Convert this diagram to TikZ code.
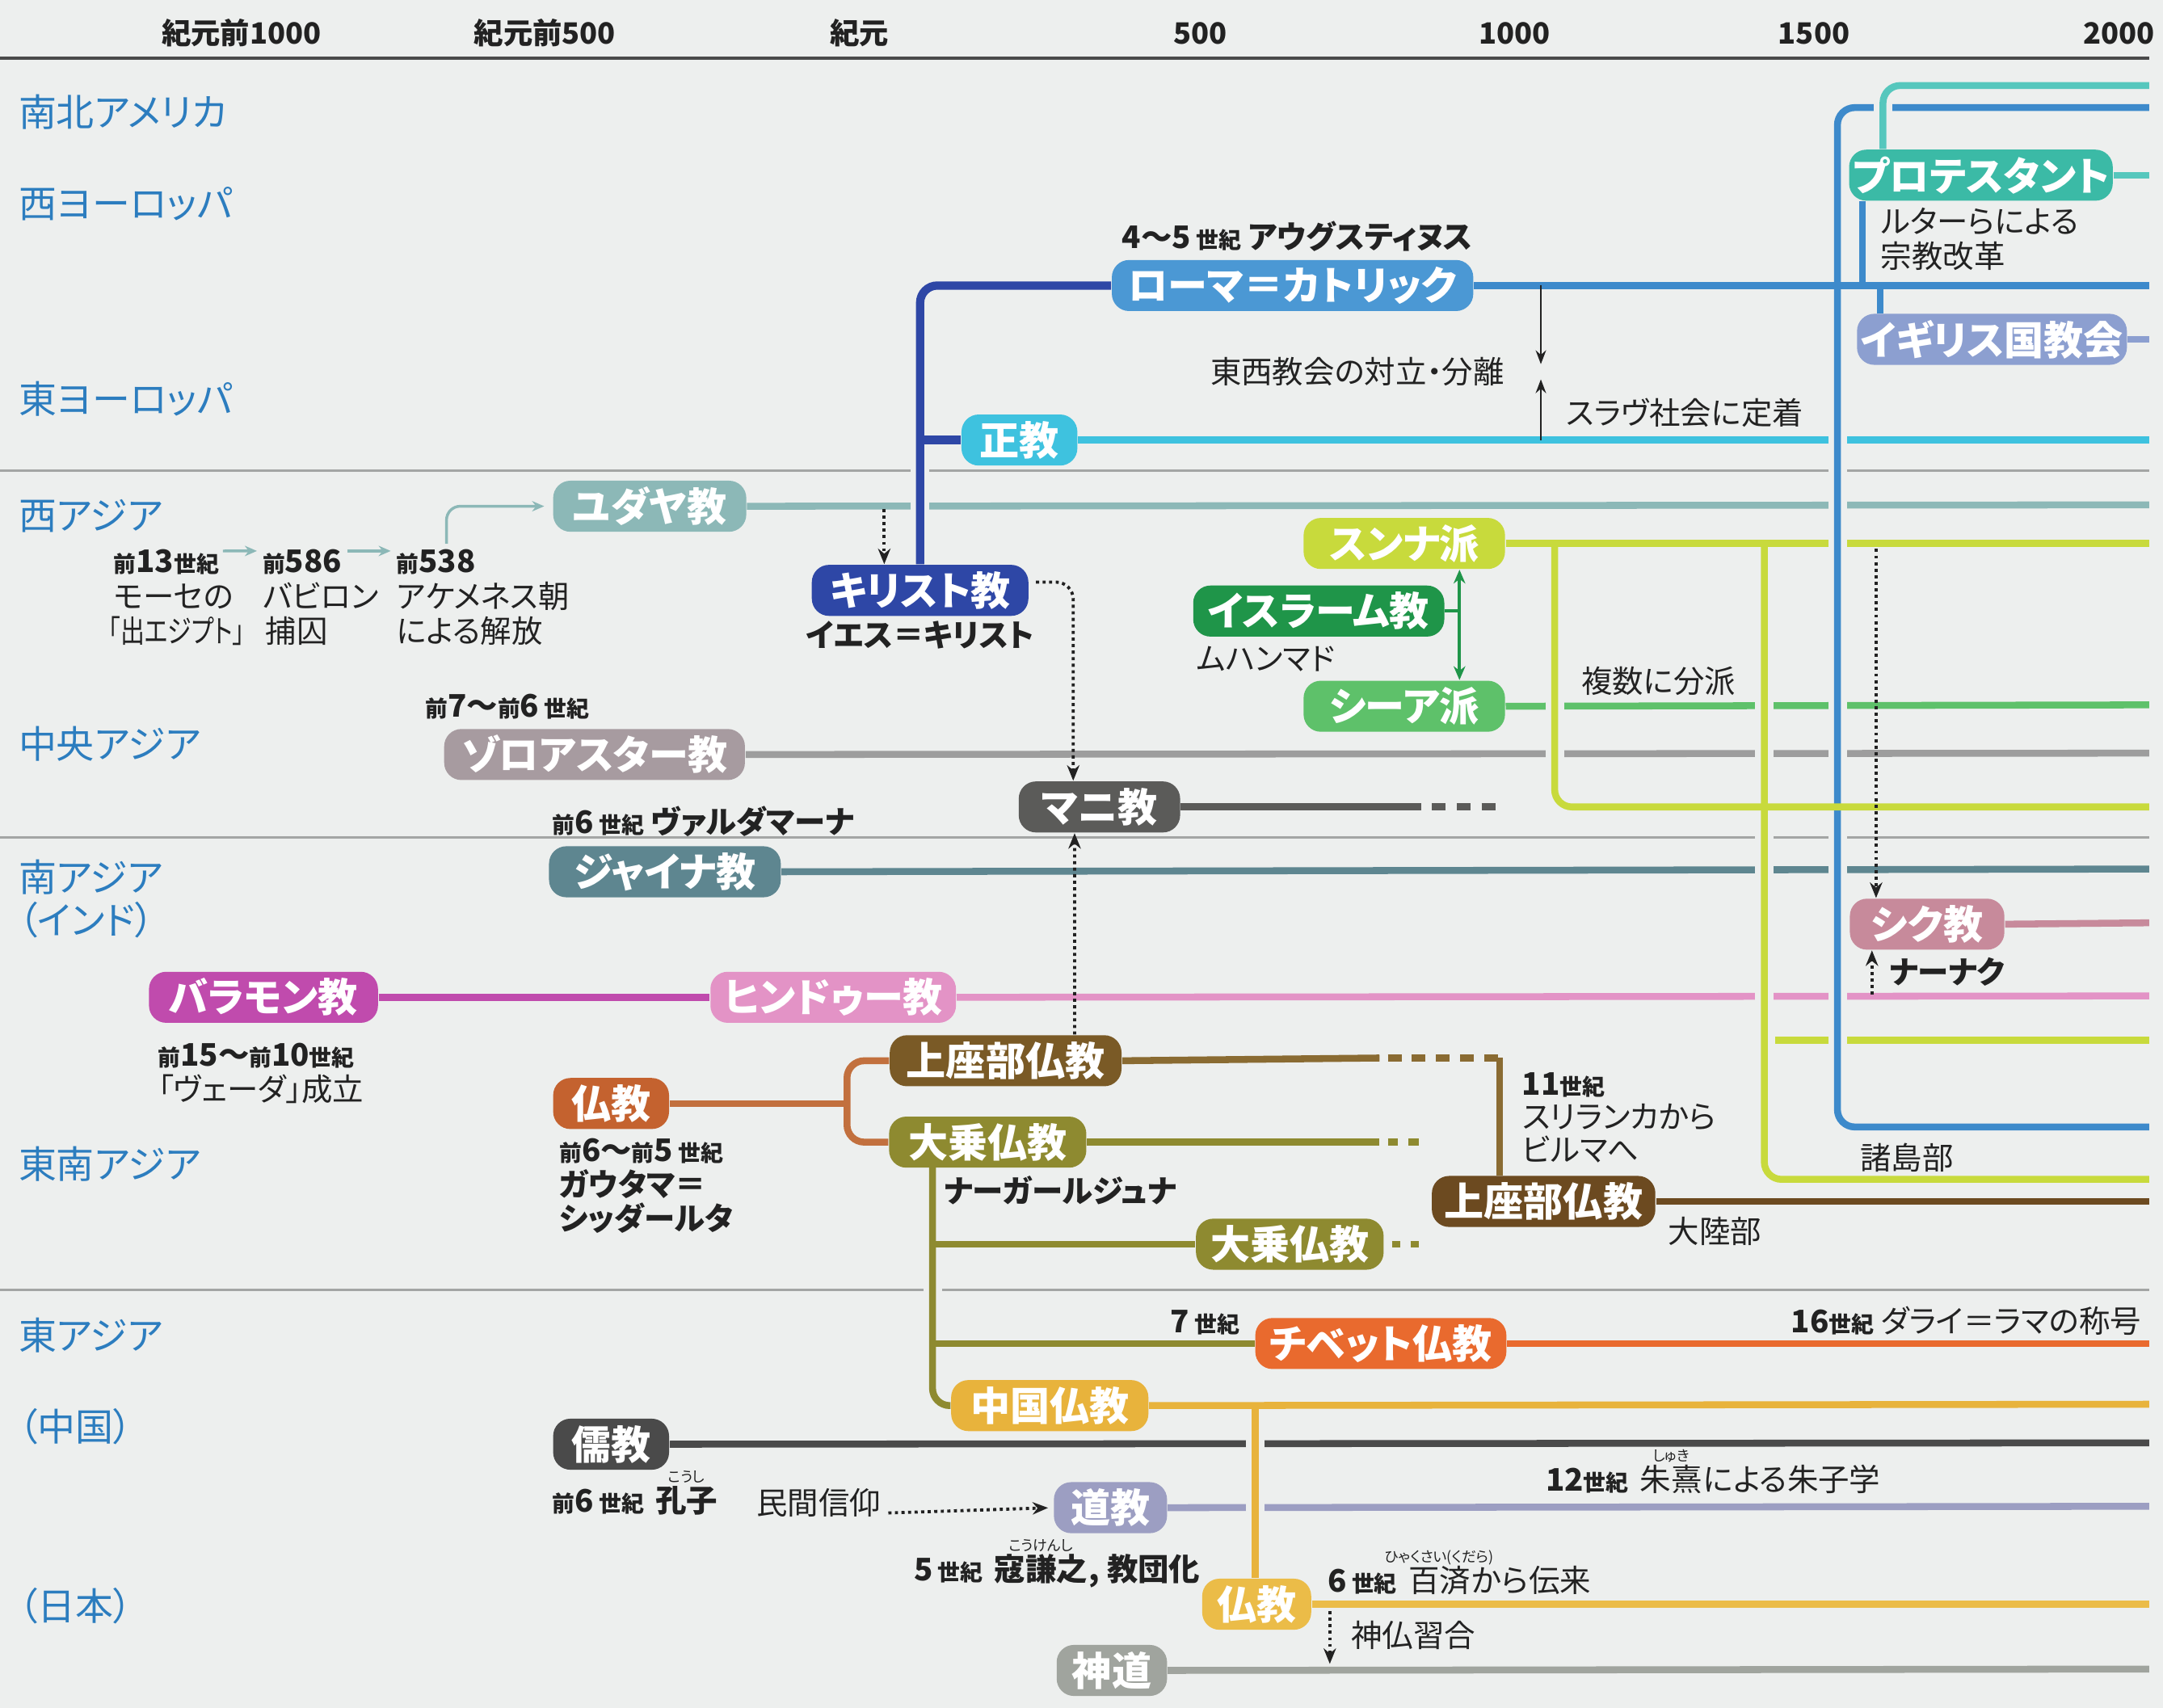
\documentclass[tikz,border=0pt]{standalone}
\usepackage{fontspec}
\usepackage{graphicx}
\setmainfont[RawFeature=+palt]{Noto Sans CJK JP}
\usetikzlibrary{arrows.meta}
\pgfdeclarelayer{back}
\pgfdeclarelayer{lines}
\pgfsetlayers{back,lines,main}

\definecolor{bgc}{HTML}{EDEFEE}
\definecolor{axc}{HTML}{4A4A4A}
\definecolor{sepc}{HTML}{A3A5A4}
\definecolor{regc}{HTML}{2C7DBF}
\definecolor{txt}{HTML}{222222}
\definecolor{cathc}{HTML}{4B98D4}
\definecolor{cathl}{HTML}{3D8ACB}
\definecolor{chrc}{HTML}{2E47A6}
\definecolor{orthc}{HTML}{3EC2DF}
\definecolor{protc}{HTML}{3BBAA6}
\definecolor{protl}{HTML}{56C7BD}
\definecolor{anglc}{HTML}{8C9FD0}
\definecolor{judc}{HTML}{8CB8B7}
\definecolor{sunc}{HTML}{C8DA3C}
\definecolor{islc}{HTML}{1F9549}
\definecolor{shic}{HTML}{5EC16A}
\definecolor{zorc}{HTML}{A79BA0}
\definecolor{zorl}{HTML}{9D9D9D}
\definecolor{manc}{HTML}{5B5B59}
\definecolor{jaic}{HTML}{5E8690}
\definecolor{brac}{HTML}{C04BAD}
\definecolor{hinc}{HTML}{E393C6}
\definecolor{sikc}{HTML}{C78A9B}
\definecolor{budc}{HTML}{C4622F}
\definecolor{budl}{HTML}{C2703E}
\definecolor{thec}{HTML}{7A5A26}
\definecolor{thel}{HTML}{8A6B32}
\definecolor{mahc}{HTML}{8E8A30}
\definecolor{thsc}{HTML}{6C4A20}
\definecolor{tibc}{HTML}{E96A2E}
\definecolor{chbc}{HTML}{E8B33C}
\definecolor{conc}{HTML}{4A4A4A}
\definecolor{taoc}{HTML}{9C9EC2}
\definecolor{jbuc}{HTML}{EBBC48}
\definecolor{shnc}{HTML}{A0A49E}

\newcommand{\sk}[1]{{\fontsize{6.5}{7}\selectfont #1}}

\begin{document}
\begin{tikzpicture}[x=0.4pt,y=-0.4pt,
  box/.style={rounded corners=5pt, text=white, inner xsep=1pt, inner ysep=0pt,
     minimum height=14.8pt, font=\fontsize{11.5}{12}\selectfont\bfseries},
  bx/.style 2 args={box, fill=#1, minimum width=#2*0.4pt},
  ln/.style={line width=2pt, draw=#1},
  halo/.style={line width=5.4pt, draw=bgc},
  an/.style={anchor=base west, inner sep=0pt, text=txt, font=\fontsize{9}{10}\selectfont},
  anb/.style={an, font=\fontsize{9}{10}\selectfont\bfseries},
  reg/.style={anchor=west, inner sep=0pt, text=regc, font=\fontsize{11}{12}\selectfont},
  hdr/.style={inner sep=0pt, text=txt, font=\fontsize{8.5}{9}\selectfont\bfseries},
  ruby/.style={anchor=base, inner sep=0pt, text=txt, font=\fontsize{4.2}{5}\selectfont},
  sep/.style={draw=sepc, line width=0.7pt},
  dotar/.style={densely dotted, line width=0.9pt, draw=txt, -{Stealth[length=4.5pt,width=3.6pt]}},
  jar/.style={line width=0.8pt, draw=judc, -{Stealth[length=3.5pt,width=3pt]}},
  blkar/.style={line width=0.6pt, draw=txt, -{Stealth[length=4pt,width=3pt]}}
]
\begin{pgfonlayer}{back}
\fill[bgc] (0,0) rectangle (1568,1238);
\end{pgfonlayer}
\useasboundingbox (0,0) rectangle (1568,1238);

% ---------- header ----------
\node[hdr] (h1) at (175,24) {紀元前1000};
\node[hdr] (h2) at (395,24) {紀元前500};
\node[hdr] (h3) at (623,24) {紀元};
\node[hdr] (h4) at (870,24) {500};
\node[hdr] (h5) at (1098,24) {1000};
\node[hdr] (h6) at (1315,24) {1500};
\node[hdr] (h7) at (1536,24) {2000};

% ---------- region labels ----------
\node[reg] (r1) at (13,81) {南北アメリカ};
\node[reg] (r2) at (13,148) {西ヨーロッパ};
\node[reg] (r3) at (13,289) {東ヨーロッパ};
\node[reg] (r4) at (13,374) {西アジア};
\node[reg] (r5) at (13,539) {中央アジア};
\node[reg] (r6) at (13,636) {南アジア};
\node[reg] (r7) at (13,667) {（インド）};
\node[reg] (r8) at (13,844) {東南アジア};
\node[reg] (r9) at (13,968) {東アジア};
\node[reg] (r10) at (13,1034) {（中国）};
\node[reg] (r11) at (13,1164) {（日本）};

% ---------- religion boxes ----------
\node[bx={cathc}{262}] (cath) at (937,207) {ローマ＝カトリック};
\node[bx={orthc}{84}] (orth) at (739,319) {正教};
\node[bx={protc}{190}] (prot) at (1436,127) {プロテスタント};
\node[bx={anglc}{186}] (angl) at (1444,246) {イギリス国教会};
\node[bx={judc}{140}] (jud) at (471,367) {ユダヤ教};
\node[bx={chrc}{157}] (chr) at (667,428) {キリスト教};
\node[bx={sunc}{146}] (sunni) at (1018,394) {スンナ派};
\node[bx={islc}{182}] (islam) at (956,443) {イスラーム教};
\node[bx={shic}{146}] (shia) at (1018,512) {シーア派};
\node[bx={zorc}{218}] (zoro) at (431,547) {ゾロアスター教};
\node[bx={manc}{117}] (mani) at (797,585) {マニ教};
\node[bx={jaic}{168}] (jain) at (482,632) {ジャイナ教};
\node[bx={brac}{166}] (brah) at (191,723) {バラモン教};
\node[bx={hinc}{178}] (hindu) at (604,723) {ヒンドゥー教};
\node[bx={sikc}{112}] (sikh) at (1397,670) {シク教};
\node[bx={budc}{84}] (bud) at (443,800) {仏教};
\node[bx={thec}{168}] (thera) at (729,769) {上座部仏教};
\node[bx={mahc}{143}] (maha) at (716,828) {大乗仏教};
\node[bx={mahc}{136}] (mahase) at (935,902) {大乗仏教};
\node[bx={thsc}{162}] (therase) at (1119,871) {上座部仏教};
\node[bx={tibc}{182}] (tib) at (1001,974) {チベット仏教};
\node[bx={chbc}{143}] (chbud) at (761,1019) {中国仏教};
\node[bx={conc}{84}] (conf) at (443,1047) {儒教};
\node[bx={taoc}{82}] (tao) at (805,1093) {道教};
\node[bx={jbuc}{79}] (jbud) at (911,1163) {仏教};
\node[bx={shnc}{80}] (shinto) at (806,1211) {神道};

% ---------- annotations ----------
\node[anb] (augu) at (813,180) {4～5\,\sk{世紀} アウグスティヌス};
\node[an] (schism) at (877,278) {東西教会の対立・分離};
\node[an] (slav) at (1135,308) {スラヴ社会に定着};
\node[an] (luth1) at (1363,169) {ルターらによる};
\node[an] (luth2) at (1363,194) {宗教改革};
\node[anb] (t13) at (82,415) {\sk{前}13\sk{世紀}};
\node[anb] (t586) at (190,415) {\sk{前}586};
\node[anb] (t538) at (287,415) {\sk{前}538};
\node[an] (m1) at (82,441) {モーセの};
\node[an] (m2) at (78,466) {\scalebox{0.78}[1]{「出エジプト」}};
\node[an] (b1) at (190,441) {バビロン};
\node[an] (b2) at (192,466) {捕囚};
\node[an] (a1) at (287,441) {アケメネス朝};
\node[an] (a2) at (287,466) {による解放};
\node[anb] (jesus) at (584,469) {イエス＝キリスト};
\node[an] (muh) at (867,486) {ムハンマド};
\node[an] (split) at (1146,502) {複数に分派};
\node[anb] (zd) at (308,520) {\sk{前}7～\sk{前}6\,\sk{世紀}};
\node[anb] (vard) at (400,604) {\sk{前}6\,\sk{世紀} ヴァルダマーナ};
\node[anb] (nanak) at (1369,713) {ナーナク};
\node[anb] (veda1) at (114,773) {\sk{前}15～\sk{前}10\sk{世紀}};
\node[an] (veda2) at (114,798) {「ヴェーダ」成立};
\node[anb] (gau1) at (405,842) {\sk{前}6～\sk{前}5\,\sk{世紀}};
\node[anb] (gau2) at (405,867) {ガウタマ＝};
\node[anb] (gau3) at (405,892) {シッダールタ};
\node[anb] (naga) at (684,872) {ナーガールジュナ};
\node[anb] (c11) at (1103,794) {11\sk{世紀}};
\node[an] (sri1) at (1103,818) {スリランカから};
\node[an] (sri2) at (1103,842) {ビルマへ};
\node[an] (isles) at (1348,848) {諸島部};
\node[an] (cont) at (1209,901) {大陸部};
\node[anb] (c7) at (848,966) {7\,\sk{世紀}};
\node[an] (dalai) at (1298,966) {\textbf{16\sk{世紀}} ダライ＝ラマの称号};
\node[anb] (kongA) at (400,1096) {\sk{前}6\,\sk{世紀}\kern3pt};
\node[anb, anchor=base west] (kongB) at (kongA.base east) {孔子};
\node[ruby] at ([yshift=8.6pt]kongB.base) {こうし};
\node[an] (minkan) at (548,1098) {民間信仰};
\node[an] (zhuA) at (1120,1081) {\textbf{12\sk{世紀}}\kern3pt};
\node[an, anchor=base west] (zhuB) at (zhuA.base east) {朱熹};
\node[an, anchor=base west] (zhuC) at (zhuB.base east) {による朱子学};
\node[ruby] at ([yshift=8.6pt]zhuB.base) {しゅき};
\node[anb] (kouA) at (662,1146) {5\,\sk{世紀}\kern3pt};
\node[anb, anchor=base west] (kouB) at (kouA.base east) {寇謙之};
\node[anb, anchor=base west] (kouC) at (kouB.base east) {, 教団化};
\node[ruby] at ([yshift=8.6pt]kouB.base) {こうけんし};
\node[an] (kudA) at (962,1154) {\textbf{6\,\sk{世紀}}\kern3pt};
\node[an, anchor=base west] (kudB) at (kudA.base east) {百済};
\node[an, anchor=base west] (kudC) at (kudB.base east) {から伝来};
\node[ruby] at ([yshift=8.6pt]kudB.base) {ひゃくさい(くだら)};
\node[an] (shinbutsu) at (979,1194) {神仏習合};

% ---------- connectors ----------
\begin{pgfonlayer}{lines}
\coordinate (eAm) at (1558,78);
\coordinate (eProt2) at (1558,62);
\coordinate (eProt) at (1558,127);
\coordinate (eCath) at (1558,207);
\coordinate (eAngl) at (1558,246);
\coordinate (eOrth) at (1558,319);
\coordinate (eJud) at (1558,366);
\coordinate (eSun) at (1558,394);
\coordinate (eShia) at (1558,511);
\coordinate (eZoro) at (1558,546);
\coordinate (eLime1) at (1558,585);
\coordinate (eJain) at (1558,630);
\coordinate (eSikh) at (1558,669);
\coordinate (eHin) at (1558,722);
\coordinate (eLime2) at (1558,754);
\coordinate (eIsl) at (1558,817);
\coordinate (eLime3) at (1558,855);
\coordinate (eThS) at (1558,871);
\coordinate (eTib) at (1558,974);
\coordinate (eChB) at (1558,1018);
\coordinate (eConf) at (1558,1046);
\coordinate (eTao) at (1558,1092);
\coordinate (eJB) at (1558,1163);
\coordinate (eShin) at (1558,1210);
\coordinate (cJ) at (1332,207);
\coordinate (pJ) at (1350,207);
\coordinate (aJ) at (1363,207);
\coordinate (tX) at (1365,0);
\coordinate (sJ1) at (1127,394);
\coordinate (sJ2) at (1279,394);
\coordinate (l2s) at (1287,754);
\coordinate (iJ) at (1058,443);
\coordinate (bJ) at (614,800);
\coordinate (oJ) at (676,846);
\coordinate (gJ) at (910,1018);
\coordinate (mE1) at (1030,585);
\coordinate (mD1) at (1038,585);
\coordinate (mD2) at (1091,585);
\coordinate (tE1) at (1000,767);
\coordinate (tD1) at (1006,767);
\coordinate (tV) at (1087,767);
\coordinate (hE1) at (1000,828);
\coordinate (hD1) at (1006,828);
\coordinate (hD2) at (1034,828);
\coordinate (sD1) at (1009,902);
\coordinate (sD2) at (1034,902);
\coordinate (sX) at (1117,0);
\coordinate (sk1) at (1360,398);
\coordinate (sk2) at (1357,721);
\coordinate (dj1) at (641,369);
\coordinate (jd1) at (964,1168);

% axis & separators
\draw[draw=axc, line width=1pt] (0,42) -- (1558,42);
\draw[sep] (0,341) -- (1558,341);
\draw[sep] (0,607) -- (1558,607);
\draw[sep] (0,935) -- (1558,935);

% horizontal lines
\draw[ln=cathl] (cath.east) -- (eCath);
\draw[ln=orthc] (orth.east) -- (eOrth);
\draw[ln=judc] (jud.east) -- (eJud);
\draw[ln=sunc] (sunni.east) -- (eSun);
\draw[ln=shic] (shia.east) -- (eShia);
\draw[ln=zorl] (zoro.east) -- (eZoro);
\draw[ln=jaic] (jain.east) -- (eJain);
\draw[ln=brac] (brah.east) -- (hindu.west);
\draw[ln=hinc] (hindu.east) -- (eHin);
\draw[ln=sikc] (sikh.east) -- (eSikh);
\draw[ln=manc] (mani.east) -- (mE1);
\draw[ln=manc, dash pattern=on 4pt off 3.2pt] (mD1) -- (mD2);
\draw[ln=thel] (thera.east) -- (tE1);
\draw[ln=thel, dash pattern=on 4pt off 3pt] (tD1) -- (tV);
\draw[ln=thel] (tV) -- (tV |- therase.north);
\draw[ln=mahc] (maha.east) -- (hE1);
\draw[ln=mahc, dash pattern=on 3pt off 3pt] (hD1) -- (hD2);
\draw[ln=mahc, dash pattern=on 2.4pt off 3pt] (sD1) -- (sD2);
\draw[ln=thsc] (therase.east) -- (eThS);
\draw[ln=tibc] (tib.east) -- (eTib);
\draw[ln=chbc] (chbud.east) -- (eChB);
\draw[ln=conc] (conf.east) -- (eConf);
\draw[ln=taoc] (tao.east) -- (eTao);
\draw[ln=jbuc] (jbud.east) -- (eJB);
\draw[ln=shnc] (shinto.east) -- (eShin);
\draw[ln=protl] (prot.east) -- (eProt);
\draw[ln=anglc] (angl.east) -- (eAngl);
\draw[ln=sunc] (l2s) -- (eLime2);

% verticals with knock-out halos
\draw[halo] (667,226) -- (667,402);
\draw[line width=2.4pt, draw=chrc, rounded corners=5pt] (chr.north) |- (cath.west);
\draw[line width=2.4pt, draw=chrc] (chr.north |- orth.west) -- (orth.west);

\draw[halo] (1332,217) -- (1332,805);
\draw[ln=cathl, rounded corners=5pt] (eAm) -| (cJ) |- (eIsl);
\draw[ln=cathl] (pJ) -- (pJ |- prot.south);
\draw[ln=cathl] (aJ) -- (aJ |- angl.north);
\draw[halo] (1365,100) -- (1365,71);
\draw[ln=protl, rounded corners=5pt] (prot.north -| tX) |- (eProt2);

\draw[halo] (1127,404) -- (1127,572);
\draw[halo] (1279,404) -- (1279,842);
\draw[ln=sunc, rounded corners=5pt] (sJ1) |- (eLime1);
\draw[ln=sunc, rounded corners=5pt] (sJ2) |- (eLime3);

\draw[line width=1pt, draw=islc] (islam.east) -- (iJ);
\draw[line width=1pt, draw=islc, {Stealth[length=4pt,width=3.4pt]}-{Stealth[length=4pt,width=3.4pt]}] (iJ |- sunni.south) -- (iJ |- shia.north);

\draw[ln=budl] (bud.east) -- (bJ);
\draw[ln=budl, rounded corners=5pt] (thera.west) -| (bJ) |- (maha.west);

\draw[halo] (676,852) -- (676,1006);
\draw[ln=mahc, rounded corners=5pt] (oJ) |- (chbud.west);
\draw[ln=mahc] (oJ |- mahase.west) -- (mahase.west);
\draw[ln=mahc] (oJ |- tib.west) -- (tib.west);

\draw[halo] (910,1026) -- (910,1140);
\draw[ln=chbc] (gJ) -- (gJ |- jbud.north);

% small arrows
\draw[jar, shorten <=1pt, shorten >=1.5pt] ([yshift=3.2pt]t13.east) -- ([yshift=3.2pt]t586.west);
\draw[jar, shorten <=1.5pt, shorten >=1.5pt] ([yshift=3.2pt]t586.east) -- ([yshift=3.2pt]t538.west);
\draw[jar, rounded corners=4pt, shorten >=2.4pt] ([xshift=3pt,yshift=1.5pt]t538.north) |- (jud.west);

\draw[blkar] (sX |- eCath) -- ++(0,57);
\draw[blkar] (sX |- eOrth) -- ++(0,-44);

% dotted arrows
\draw[dotar] (dj1) -- (dj1 |- chr.north);
\draw[dotar, rounded corners=5pt, shorten <=2pt] ([yshift=2.4pt]chr.east) -| ([xshift=-7.6pt]mani.north);
\draw[dotar] ([xshift=20pt]thera.north) -- ([xshift=-7.2pt]mani.south);
\draw[dotar] (sk1) -- (sk1 |- sikh.north);
\draw[dotar] (sk2) -- (sk2 |- sikh.south);
\draw[dotar, shorten <=2pt, shorten >=1.5pt] ([yshift=-3pt]minkan.east) -- (tao.west);
\draw[dotar, shorten >=1.5pt] (jd1) -- (jd1 |- eShin);
\end{pgfonlayer}
\end{tikzpicture}
\end{document}
